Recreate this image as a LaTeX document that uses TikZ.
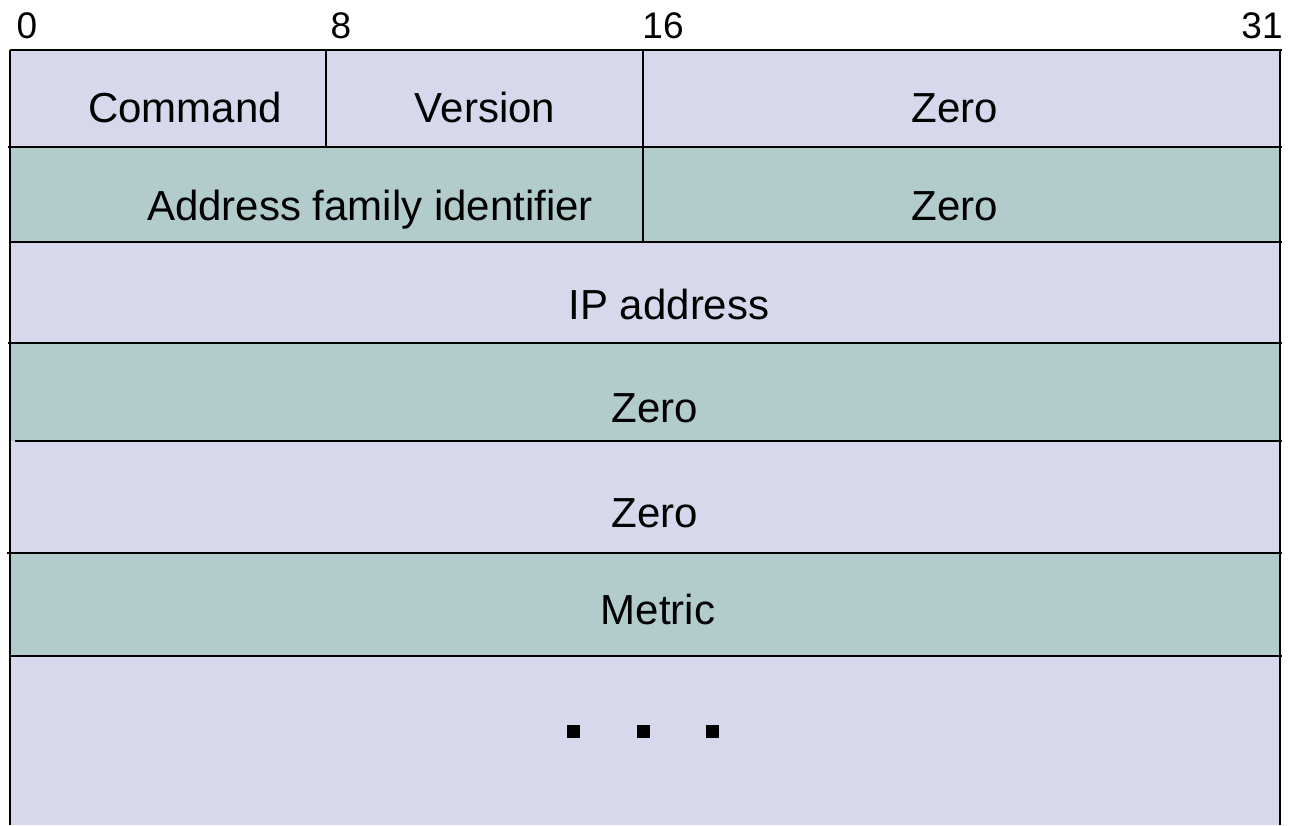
\documentclass[tikz,border=0pt]{standalone}
\usepackage{fontspec}
\setmainfont{Liberation Sans}
\definecolor{lav}{HTML}{D7D8EC}
\definecolor{teal2}{HTML}{B2CCCC}
\begin{document}
\begin{tikzpicture}[x=1pt,y=-1pt,
  field/.style={inner sep=0pt,anchor=base,font=\fontsize{42}{50}\selectfont},
  bitlabel/.style={inner sep=0pt,anchor=base,font=\fontsize{37}{44}\selectfont},
  rule/.style={line width=2.6pt,black},
  dotsq/.style={fill=black,minimum size=13pt,inner sep=0pt,draw=none}]
\useasboundingbox (0,0) rectangle (1289,825);
% row fills
\fill[lav]   (10,50)  rectangle (1280,147);
\fill[teal2] (10,147) rectangle (1280,242);
\fill[lav]   (10,242) rectangle (1280,343);
\fill[teal2] (10,343) rectangle (1280,441);
\fill[lav]   (10,441) rectangle (1280,553);
\fill[teal2] (10,553) rectangle (1280,656);
\fill[lav]   (10,656) rectangle (1280,825);
% bit labels
\node[bitlabel] (b0)  at (27,38)   {0};
\node[bitlabel] (b8)  at (341,38)  {8};
\node[bitlabel] (b16) at (663,38)  {16};
\node[bitlabel] (b31) at (1262,38) {31};
% grid lines
\draw[rule] (10,50) -- (10,825);
\draw[rule] (1280,50) -- (1280,825);
\draw[rule] (10,50) -- (1282,50);
\draw[rule] (8,147) -- (1282,147);
\draw[rule] (10,242) -- (1282,242);
\draw[rule] (8,343) -- (1282,343);
\draw[rule] (15,441) -- (1282,441);
\draw[rule] (7,553) -- (1282,553);
\draw[rule] (10,656) -- (1282,656);
\draw[rule] (326,50) -- (326,147);
\draw[rule] (643,50) -- (643,242);
% fields
\node[field] (cmd)  at (185,122) {Command};
\node[field] (ver)  at (485,122) {Version};
\node[field] (z1)   at (955,122) {Zero};
\node[field] (afi)  at (370,220) {Address family identifier};
\node[field] (z2)   at (955,220) {Zero};
\node[field] (ip)   at (669,319) {IP address};
\node[field] (z3)   at (655,422) {Zero};
\node[field] (z4)   at (655,527) {Zero};
\node[field] (met)  at (658,624) {Metric};
% ellipsis squares
\node[dotsq] (d1) at (573,731) {};
\node[dotsq] (d2) at (643,731) {};
\node[dotsq] (d3) at (712,731) {};
\end{tikzpicture}
\end{document}
